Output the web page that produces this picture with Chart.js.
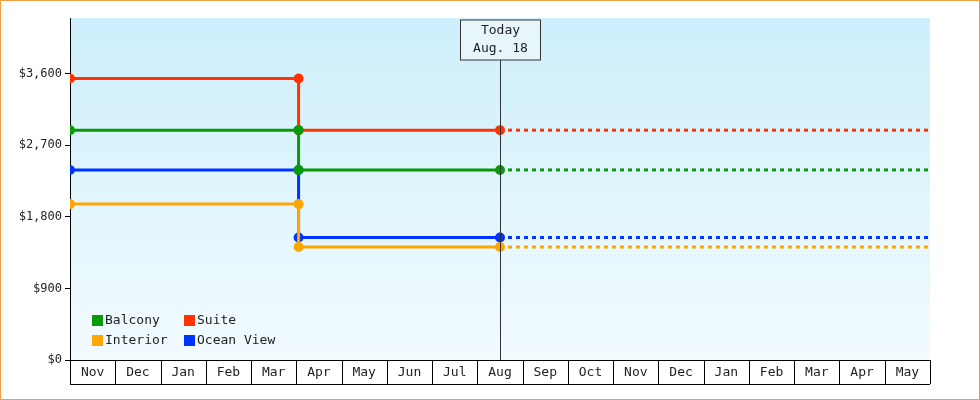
<!DOCTYPE html>
<html><head><meta charset="utf-8">
<script src="https://cdn.jsdelivr.net/npm/chart.js@4/dist/chart.umd.min.js"></script>
<style>
html,body{margin:0;padding:0;background:#fff}
#wrap{width:980px;height:400px;box-sizing:border-box;border:1px solid #f0a040;position:relative}
canvas{display:block}
</style></head><body>
<div id="wrap"><canvas id="c" width="978" height="398"></canvas></div>
<script>
// mois affichés sous l'axe (Nov -> May, 19 mois)
const months = ['Nov','Dec','Jan','Feb','Mar','Apr','May','Jun','Jul','Aug','Sep','Oct','Nov','Dec','Jan','Feb','Mar','Apr','May'];
const yTicks = [0, 900, 1800, 2700, 3600];
// position en mois depuis le 1er nov.
const changeX = 5.05;   // début avril
const todayX = 9.5;     // 18 août
const endX = 19;
const seriesNames = ['Balcony', 'Suite', 'Interior', 'Ocean View'];
const seriesColors = ['#089a08', '#ff3300', '#ffa500', '#0033ff'];
const priceBefore = [2890, 3540, 1960, 2390];
const priceAfter = [2390, 2890, 1420, 1540];

const datasets = [];
seriesNames.forEach((name, i) => {
  datasets.push({
    label: name, borderColor: seriesColors[i], backgroundColor: seriesColors[i],
    borderWidth: 3, pointRadius: 3.5, pointHoverRadius: 3.5,
    data: [{x: 0, y: priceBefore[i]}, {x: changeX, y: priceBefore[i]}, {x: changeX, y: priceAfter[i]}, {x: todayX, y: priceAfter[i]}]
  });
  datasets.push({
    label: '', borderColor: seriesColors[i], borderWidth: 3, borderDash: [4, 4], pointRadius: 0,
    data: [{x: todayX, y: priceAfter[i]}, {x: endX, y: priceAfter[i]}]
  });
});

const FONT = '13px "DejaVu Sans Mono", monospace';

const decor = {
  id: 'decor',
  beforeDraw(chart) {
    const {ctx, chartArea: a} = chart;
    const g = ctx.createLinearGradient(0, a.top, 0, a.bottom);
    g.addColorStop(0, '#cdeffb');
    g.addColorStop(1, '#f2fbfe');
    ctx.save(); ctx.fillStyle = g; ctx.fillRect(a.left, a.top, a.right - a.left, a.bottom - a.top); ctx.restore();
  },
  afterDraw(chart) {
    const {ctx, chartArea: a, scales: {x}} = chart;
    ctx.save();
    // boîtes des mois
    ctx.strokeStyle = '#000'; ctx.lineWidth = 1;
    ctx.beginPath();
    ctx.moveTo(a.left, a.bottom + 0.5); ctx.lineTo(a.right, a.bottom + 0.5);
    ctx.moveTo(a.left, a.bottom + 24.5); ctx.lineTo(a.right, a.bottom + 24.5);
    for (let m = 0; m <= months.length; m++) {
      const px = Math.round(x.getPixelForValue(m)) + 0.5;
      ctx.moveTo(px, a.bottom); ctx.lineTo(px, a.bottom + 24);
    }
    ctx.stroke();
    // ligne "Today"
    const tx = Math.round(x.getPixelForValue(todayX)) + 0.5;
    ctx.strokeStyle = '#333';
    ctx.beginPath(); ctx.moveTo(tx, a.top + 42); ctx.lineTo(tx, a.bottom); ctx.stroke();
    ctx.fillStyle = '#e6f6fb';
    ctx.fillRect(tx - 40, a.top + 2, 80, 40);
    ctx.strokeRect(tx - 40, a.top + 2, 80, 40);
    ctx.fillStyle = '#222'; ctx.font = FONT; ctx.textAlign = 'center'; ctx.textBaseline = 'middle';
    ctx.fillText('Today', tx, a.top + 13);
    ctx.fillText('Aug. 18', tx, a.top + 31);
    // légende
    ctx.textAlign = 'left';
    seriesNames.forEach((name, i) => {
      const lx = a.left + 22 + (i % 2) * 92, ly = a.bottom - 40 + Math.floor(i / 2) * 20;
      ctx.fillStyle = seriesColors[i]; ctx.fillRect(lx, ly - 5, 11, 11);
      ctx.fillStyle = '#222'; ctx.fillText(name, lx + 13, ly + 1);
    });
    ctx.restore();
  }
};

new Chart(document.getElementById('c'), {
  type: 'line',
  data: {datasets},
  options: {
    responsive: false, animation: false, events: [],
    layout: {padding: {top: 17, right: 49, left: 0, bottom: 0}},
    plugins: {legend: {display: false}, tooltip: {enabled: false}},
    scales: {
      x: {
        type: 'linear', min: 0, max: endX,
        afterBuildTicks: s => { s.ticks = months.map((m, i) => ({value: i + 0.5})); },
        afterFit: s => { s.height = 39; },
        grid: {display: false, tickLength: 0}, border: {display: false},
        ticks: {color: '#222', font: {family: '"DejaVu Sans Mono", monospace', size: 13}, padding: 5, maxRotation: 0, autoSkip: false,
          callback: (v) => months[Math.floor(v)]}
      },
      y: {
        min: 0, max: 4300,
        afterBuildTicks: s => { s.ticks = yTicks.map(v => ({value: v})); },
        afterFit: s => { s.width = 69; },
        grid: {drawOnChartArea: false, tickLength: 5, color: '#000'},
        border: {display: true, color: '#000', width: 1},
        ticks: {color: '#222', font: {family: '"DejaVu Sans Mono", monospace', size: 12}, padding: 3,
          callback: v => '$' + v.toLocaleString('en-US')}
      }
    }
  },
  plugins: [decor]
});
</script>
</body></html>
